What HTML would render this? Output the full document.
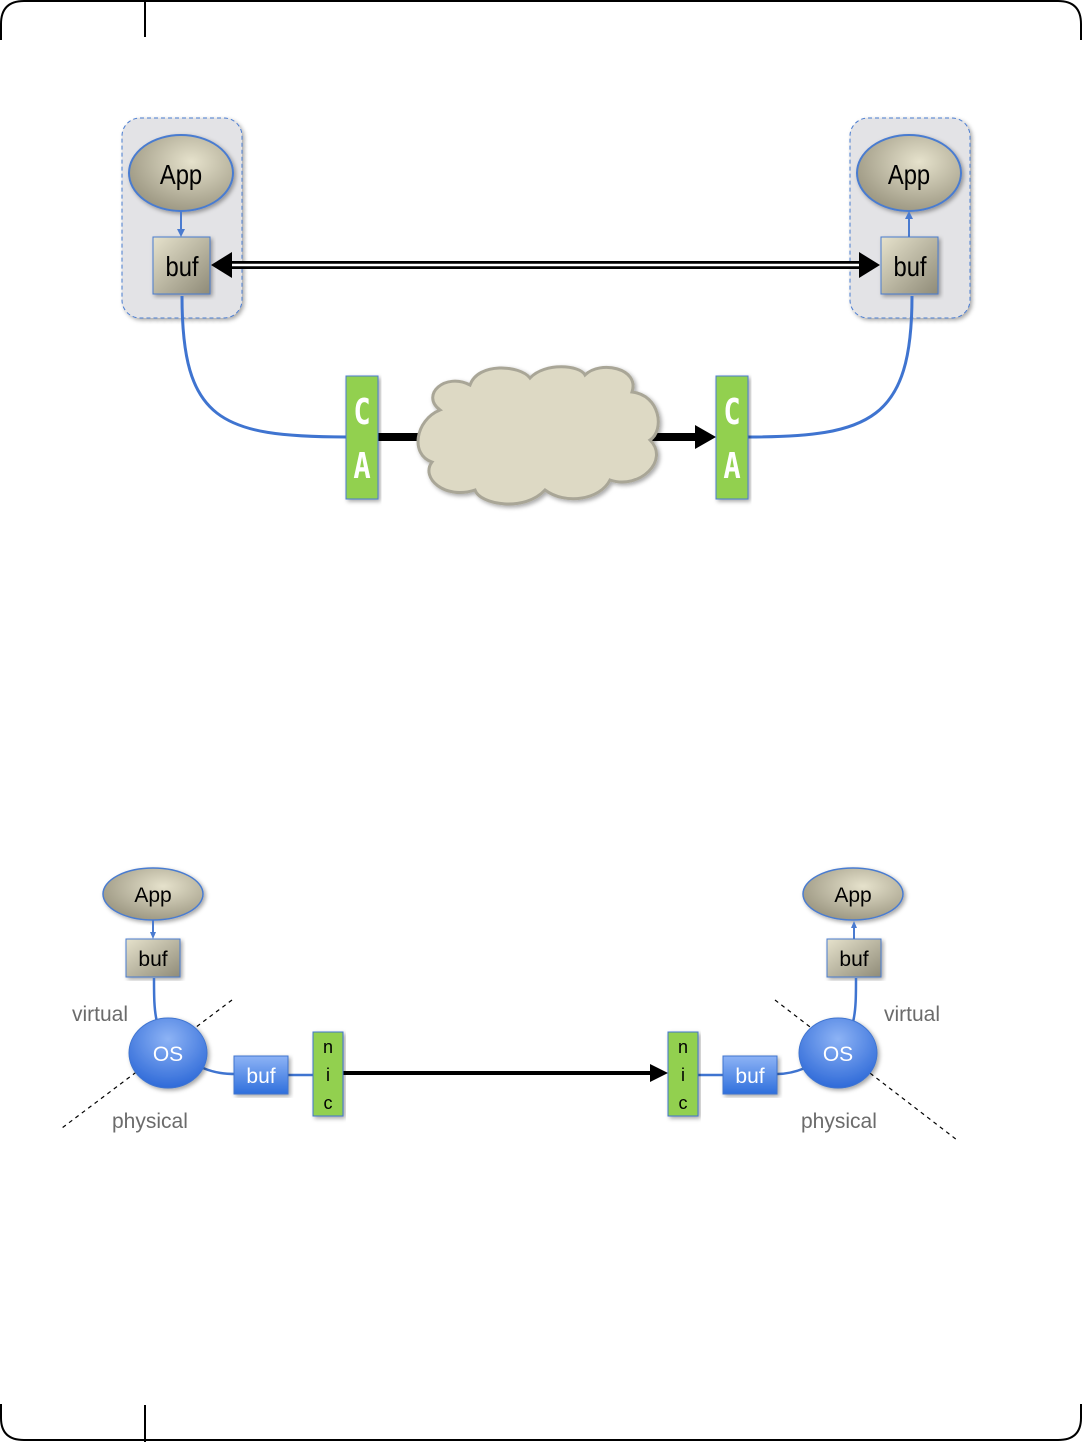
<!DOCTYPE html>
<html><head><style>body{margin:0;background:#fff}svg{display:block}</style></head><body>
<svg width="1083" height="1442" viewBox="0 0 1083 1442" xmlns="http://www.w3.org/2000/svg" font-family="Liberation Sans, sans-serif">
<defs>
<linearGradient id="tan" x1="0" y1="0" x2="1" y2="1"><stop offset="0" stop-color="#e6e2cc"/><stop offset="1" stop-color="#8f8b78"/></linearGradient>
<radialGradient id="tanE" cx="0.6" cy="0.35" r="0.7"><stop offset="0" stop-color="#e6e2cc"/><stop offset="1" stop-color="#9a9580"/></radialGradient>
<linearGradient id="blue" x1="0" y1="0" x2="0" y2="1"><stop offset="0" stop-color="#8db3f5"/><stop offset="1" stop-color="#2f6fdc"/></linearGradient>
<radialGradient id="blueC" cx="0.5" cy="0.3" r="0.7"><stop offset="0" stop-color="#8db3f5"/><stop offset="1" stop-color="#2f6ad8"/></radialGradient>
<filter id="sh"><feDropShadow dx="2" dy="2" stdDeviation="2" flood-opacity="0.35"/></filter>
</defs>
<!-- page frame -->
<path d="M1 40 V24 Q1 1 24 1 H1058 Q1081 1 1081 24 V40" fill="none" stroke="#000" stroke-width="2"/>
<line x1="145" y1="0" x2="145" y2="37" stroke="#000" stroke-width="2"/>
<line x1="145" y1="1405" x2="145" y2="1442" stroke="#000" stroke-width="2"/>
<path d="M1 1404 V1418 Q1 1440 24 1440 H1058 Q1081 1440 1081 1418 V1404" fill="none" stroke="#000" stroke-width="2"/>

<!-- TOP DIAGRAM -->
<rect x="122" y="118" width="120" height="200" rx="18" fill="#e3e3e6" stroke="#4a7bd0" stroke-dasharray="4,3" filter="url(#sh)"/>
<rect x="850" y="118" width="120" height="200" rx="18" fill="#e3e3e6" stroke="#4a7bd0" stroke-dasharray="4,3" filter="url(#sh)"/>
<ellipse cx="181" cy="173" rx="52" ry="38" fill="url(#tanE)" stroke="#4a7bd0" stroke-width="2" filter="url(#sh)"/>
<ellipse cx="909" cy="173" rx="52" ry="38" fill="url(#tanE)" stroke="#4a7bd0" stroke-width="2" filter="url(#sh)"/>
<text x="181" y="184" font-size="28" text-anchor="middle" transform="translate(181,0) scale(0.85,1) translate(-181,0)">App</text>
<text x="909" y="184" font-size="28" text-anchor="middle" transform="translate(909,0) scale(0.85,1) translate(-909,0)">App</text>
<line x1="181" y1="211" x2="181" y2="232" stroke="#4a7bd0" stroke-width="2"/>
<path d="M177 229 L181 237 L185 229Z" fill="#4a7bd0"/>
<line x1="909" y1="237" x2="909" y2="216" stroke="#4a7bd0" stroke-width="2"/>
<path d="M905 219 L909 211 L913 219Z" fill="#4a7bd0"/>
<rect x="153" y="237" width="57" height="57" fill="url(#tan)" stroke="#4a7bd0" filter="url(#sh)"/>
<rect x="881" y="237" width="57" height="57" fill="url(#tan)" stroke="#4a7bd0" filter="url(#sh)"/>
<text x="182" y="276" font-size="28" text-anchor="middle" transform="translate(182,0) scale(0.85,1) translate(-182,0)">buf</text>
<text x="910" y="276" font-size="28" text-anchor="middle" transform="translate(910,0) scale(0.85,1) translate(-910,0)">buf</text>
<line x1="225" y1="265" x2="866" y2="265" stroke="#000" stroke-width="8"/>
<line x1="225" y1="265" x2="866" y2="265" stroke="#fff" stroke-width="2.5"/>
<path d="M211 265 L232 252 L232 278Z" fill="#000"/>
<path d="M880 265 L859 252 L859 278Z" fill="#000"/>
<path d="M182 296 C182 420 220 437 347 437" fill="none" stroke="#3f74d0" stroke-width="3"/>
<path d="M912 296 C912 420 870 437 748 437" fill="none" stroke="#3f74d0" stroke-width="3"/>
<line x1="378" y1="437" x2="440" y2="437" stroke="#000" stroke-width="8"/>
<line x1="640" y1="437" x2="700" y2="437" stroke="#000" stroke-width="8"/>
<path d="M716 437 L695 425 L695 449Z" fill="#000"/>
<path d="M440 410 C420 395 445 372 470 385 C478 362 520 365 530 378 C545 362 580 365 585 375 C600 360 640 368 632 392 C660 395 665 430 650 440 C670 460 640 490 610 480 C600 500 565 505 545 490 C525 512 480 505 475 490 C445 500 420 478 432 462 C410 455 415 420 440 410Z" fill="#ddd9c4" stroke="#a9a697" stroke-width="3" filter="url(#sh)"/>
<rect x="346" y="376" width="32" height="123" fill="#92d050" stroke="#4a7bd0" filter="url(#sh)"/>
<rect x="716" y="376" width="32" height="123" fill="#92d050" stroke="#4a7bd0" filter="url(#sh)"/>
<g font-size="36" font-weight="bold" fill="#fff" text-anchor="middle" font-family="DejaVu Sans Mono, monospace">
<text x="362" y="424" transform="translate(362,0) scale(0.8,1) translate(-362,0)">C</text>
<text x="362" y="478" transform="translate(362,0) scale(0.8,1) translate(-362,0)">A</text>
<text x="732" y="424" transform="translate(732,0) scale(0.8,1) translate(-732,0)">C</text>
<text x="732" y="478" transform="translate(732,0) scale(0.8,1) translate(-732,0)">A</text>
</g>

<!-- BOTTOM DIAGRAM -->
<g stroke="#000" stroke-dasharray="4,4" stroke-width="1.2">
<line x1="232" y1="1000" x2="62" y2="1128"/>
<line x1="775" y1="1000" x2="957" y2="1140"/>
</g>
<ellipse cx="153" cy="894" rx="50" ry="26" fill="url(#tanE)" stroke="#4a7bd0" stroke-width="1.5" filter="url(#sh)"/>
<ellipse cx="853" cy="894" rx="50" ry="26" fill="url(#tanE)" stroke="#4a7bd0" stroke-width="1.5" filter="url(#sh)"/>
<text x="153" y="902" font-size="21" text-anchor="middle">App</text>
<text x="853" y="902" font-size="21" text-anchor="middle">App</text>
<line x1="153" y1="920" x2="153" y2="934" stroke="#4a7bd0" stroke-width="2"/>
<path d="M150 932 L153 939 L156 932Z" fill="#4a7bd0"/>
<line x1="854" y1="939" x2="854" y2="926" stroke="#4a7bd0" stroke-width="2"/>
<path d="M851 928 L854 921 L857 928Z" fill="#4a7bd0"/>
<rect x="126" y="939" width="54" height="38" fill="url(#tan)" stroke="#4a7bd0" filter="url(#sh)"/>
<rect x="827" y="939" width="54" height="38" fill="url(#tan)" stroke="#4a7bd0" filter="url(#sh)"/>
<text x="153" y="966" font-size="21" text-anchor="middle">buf</text>
<text x="854" y="966" font-size="21" text-anchor="middle">buf</text>
<path d="M154 978 C154 995 154 1010 157 1022" fill="none" stroke="#3f74d0" stroke-width="2.5"/>
<path d="M856 978 C856 995 856 1010 853 1022" fill="none" stroke="#3f74d0" stroke-width="2.5"/>
<path d="M203 1068 C215 1073 225 1074 236 1074" fill="none" stroke="#3f74d0" stroke-width="2.5"/>
<path d="M805 1068 C793 1073 785 1074 777 1074" fill="none" stroke="#3f74d0" stroke-width="2.5"/>
<line x1="288" y1="1075" x2="314" y2="1075" stroke="#3f74d0" stroke-width="2.5"/>
<line x1="698" y1="1075" x2="723" y2="1075" stroke="#3f74d0" stroke-width="2.5"/>
<ellipse cx="168" cy="1053" rx="39" ry="35" fill="url(#blueC)" stroke="#3f74d0" filter="url(#sh)"/>
<ellipse cx="838" cy="1053" rx="39" ry="35" fill="url(#blueC)" stroke="#3f74d0" filter="url(#sh)"/>
<text x="168" y="1061" font-size="21" fill="#fff" text-anchor="middle">OS</text>
<text x="838" y="1061" font-size="21" fill="#fff" text-anchor="middle">OS</text>
<rect x="234" y="1056" width="54" height="38" fill="url(#blue)" stroke="#3f74d0" filter="url(#sh)"/>
<rect x="723" y="1056" width="54" height="38" fill="url(#blue)" stroke="#3f74d0" filter="url(#sh)"/>
<text x="261" y="1083" font-size="21" fill="#fff" text-anchor="middle">buf</text>
<text x="750" y="1083" font-size="21" fill="#fff" text-anchor="middle">buf</text>
<line x1="343" y1="1073" x2="652" y2="1073" stroke="#000" stroke-width="4"/>
<path d="M668 1073 L650 1064 L650 1082Z" fill="#000"/>
<rect x="313" y="1032" width="30" height="84" fill="#92d050" stroke="#3f74d0" filter="url(#sh)"/>
<rect x="668" y="1032" width="30" height="84" fill="#92d050" stroke="#3f74d0" filter="url(#sh)"/>
<g font-size="18" text-anchor="middle">
<text x="328" y="1053">n</text><text x="328" y="1081">i</text><text x="328" y="1109">c</text>
<text x="683" y="1053">n</text><text x="683" y="1081">i</text><text x="683" y="1109">c</text>
</g>
<g font-size="21" fill="#6b6b6b">
<text x="72" y="1021">virtual</text>
<text x="112" y="1128">physical</text>
<text x="884" y="1021">virtual</text>
<text x="801" y="1128">physical</text>
</g>
</svg>
</body></html>
